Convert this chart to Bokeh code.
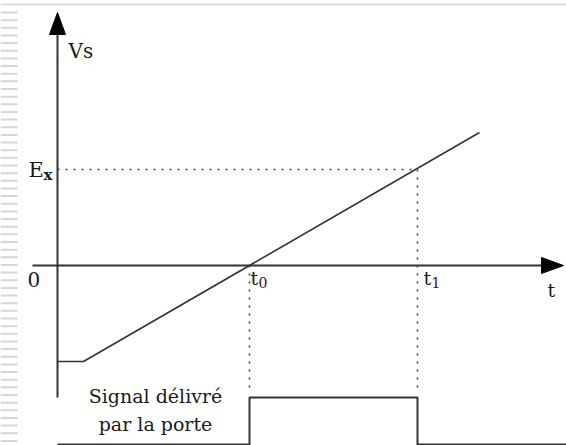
import numpy as np
from bokeh.plotting import figure
from bokeh.models import Range1d
from bokeh.core.properties import value
from bokeh.embed import file_html
from bokeh.resources import INLINE

# ---- chart values (time axis in arbitrary units, voltage in arbitrary units) ----
ramp_t = [0.0, 2.6, 42.2]          # hold, then linear ramp
ramp_v = [-9.6, -9.6, 13.3]
t0 = 19.2                           # ramp crosses zero
t1 = 36.0                           # ramp reaches Ex
Ex = 9.6
gate_low = -17.9
gate_high = -13.2
gate_t = [0.0, t0, t0, t1, t1, 50.9]
gate_v = [gate_low, gate_low, gate_high, gate_high, gate_low, gate_low]
axis_x_end = 50.6
axis_y_top = 25.3
axis_y_bottom = -13.2
axis_x_start = -2.5
dotted_bottom = -12.7

W, H = 566, 445
X0, X1 = -5.7, 50.9
Y0, Y1 = -18.0, 26.5

p = figure(width=W, height=H, output_backend="svg", toolbar_location=None,
           x_range=Range1d(X0, X1), y_range=Range1d(Y0, Y1),
           x_axis_location=None, y_axis_location=None, min_border=0)
p.grid.visible = False
p.outline_line_color = None
p.background_fill_color = "white"
p.border_fill_color = "white"

# page decoration: top rule and striped left margin
p.segment(x0=X0, y0=26.1, x1=X1, y1=26.1, line_color="#dcdcdc", line_width=2)
stripe_y = np.arange(25.3, -17.6, -0.765)
p.segment(x0=X0, y0=stripe_y, x1=-4.0, y1=stripe_y, line_color="#d6d6d6", line_width=2)

ink = "#333333"
txt = "#1a1a1a"
serif = value("DejaVu Serif")

# axes
p.line([0, 0], [axis_y_bottom, axis_y_top - 1.5], line_color=ink, line_width=2)
p.line([axis_x_start, axis_x_end - 1.5], [0, 0], line_color=ink, line_width=2)
hl, hw = 2.2, 0.8
p.patch([0, -hw, hw], [axis_y_top, axis_y_top - hl, axis_y_top - hl],
        fill_color="black", line_color="black")
p.patch([axis_x_end, axis_x_end - hl, axis_x_end - hl], [0, hw, -hw],
        fill_color="black", line_color="black")

# dotted guides
dot = dict(line_color="#444444", line_width=1.6, line_dash="2 6")
p.line([0, t1], [Ex, Ex], **dot)
p.line([t0, t0], [0, dotted_bottom], **dot)
p.line([t1, t1], [Ex, dotted_bottom], **dot)

# ramp voltage
p.line(ramp_t, ramp_v, line_color=ink, line_width=1.6)

# gate signal
p.line(gate_t, gate_v, line_color=ink, line_width=2)


def label(x, y, s, size, **kw):
    p.text(x=[x], y=[y], text=[s], text_font=serif, text_font_size=size,
           text_baseline="alphabetic", text_color=txt, **kw)


# labels
label(1.1, 21.5, "Vs", "20px")
label(-2.9, 9.6, "E", "21px")
label(-1.4, 9.1, "x", "15px", text_font_style="bold")
label(-3.0, -1.4, "0", "20px")
label(t0 + 0.1, -1.2, "t", "19px")
label(t0 + 0.9, -1.7, "0", "14px")
label(t1 + 0.6, -1.2, "t", "19px")
label(t1 + 1.4, -1.7, "1", "14px")
label(49.0, -2.4, "t", "19px")
p.text(x=[9.8, 9.8], y=[-13.0, -15.8], text=["Signal délivré", "par la porte"],
       text_font=serif, text_font_size="19px", text_align="center",
       text_baseline="alphabetic", text_color=txt)

open("out.html", "w").write(file_html(p, INLINE))
